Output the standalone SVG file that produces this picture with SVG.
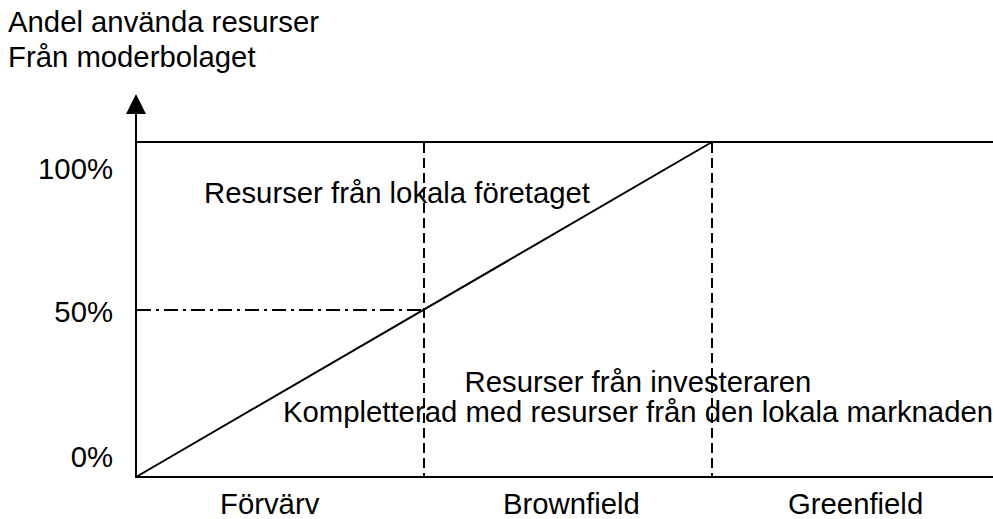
<svg xmlns="http://www.w3.org/2000/svg" width="993" height="519" viewBox="0 0 993 519">
<style>
text{font-family:"Liberation Sans",Arial,sans-serif;font-size:29.3px;fill:#000}
.ln{stroke:#000;stroke-width:2;fill:none}
.dash{stroke-dasharray:10 5}
.dd{stroke-dasharray:14 5 3 5}
</style>
<g id="axes">
<line class="ln" x1="136" y1="112" x2="136" y2="478"/>
<polygon points="136,94 126,114 146,114" fill="#000"/>
<line class="ln" x1="135" y1="477" x2="993" y2="477"/>
<line class="ln" x1="136" y1="142" x2="993" y2="142"/>
</g>
<g id="connectors">
<line class="ln" x1="136" y1="477" x2="712" y2="142"/>
<line class="ln dash" x1="424" y1="143" x2="424" y2="477"/>
<line class="ln dash" x1="712" y1="143" x2="712" y2="477"/>
<line class="ln dd" x1="137" y1="310" x2="424" y2="310"/>
</g>
<g id="axis-title">
<text x="8" y="32">Andel använda resurser</text>
<text x="8" y="67">Från moderbolaget</text>
</g>
<g id="y-labels">
<text x="113" y="179" text-anchor="end">100%</text>
<text x="113" y="322" text-anchor="end">50%</text>
<text x="113" y="467" text-anchor="end">0%</text>
</g>
<g id="region-top">
<text x="204" y="203">Resurser från lokala företaget</text>
</g>
<g id="region-bottom">
<text x="638" y="392" text-anchor="middle">Resurser från investeraren</text>
<text x="283" y="422">Kompletterad med resurser från den lokala marknaden</text>
</g>
<g id="x-labels">
<text x="220" y="514">Förvärv</text>
<text x="503" y="514">Brownfield</text>
<text x="788" y="514">Greenfield</text>
</g>
</svg>
